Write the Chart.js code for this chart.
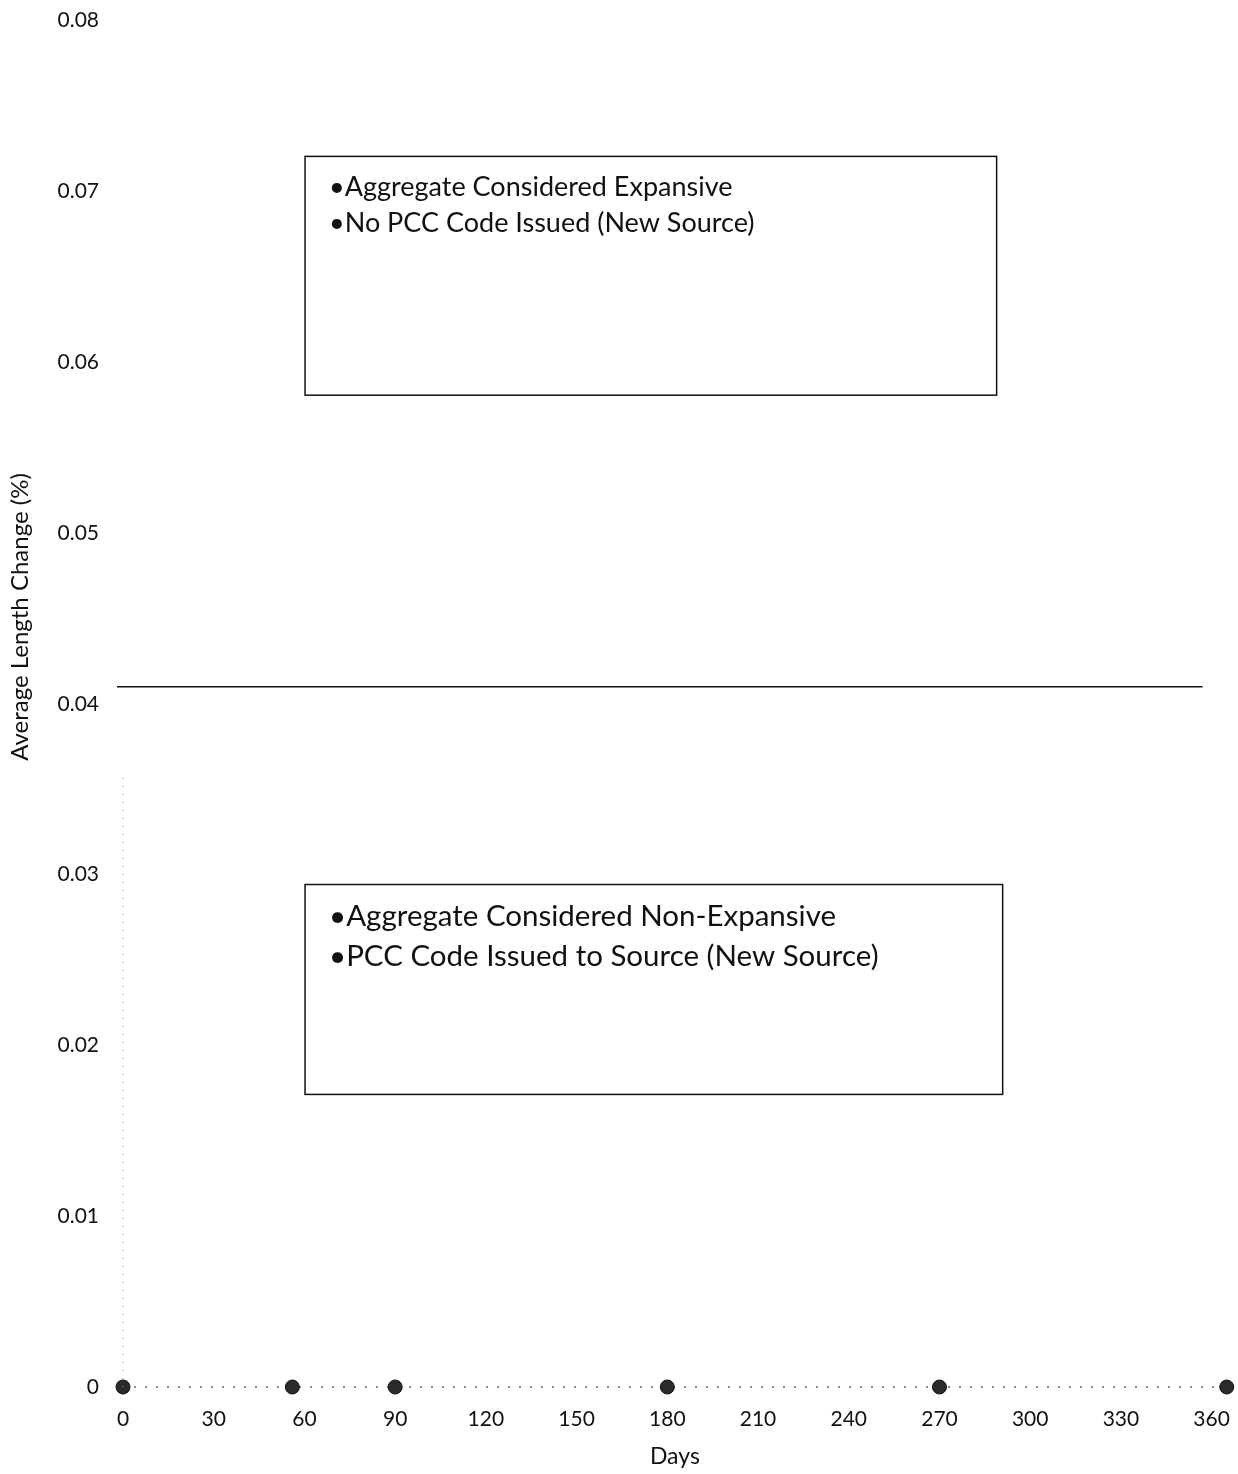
<!DOCTYPE html>
<html>
<head>
<meta charset="utf-8">
<script src="https://cdn.jsdelivr.net/npm/chart.js@4/dist/chart.umd.min.js"></script>
<style>
  html, body { margin: 0; padding: 0; background: #fff; }
  #wrap { width: 1238px; height: 1474px; overflow: hidden; position: relative; }
  #grafico { position: absolute; left: 0; top: -16px; }
</style>
</head>
<body>
<div id="wrap"><canvas id="grafico" width="1250" height="1490"></canvas></div>
<script>
// measured samples (all readings at zero)
const days = [0, 56, 90, 180, 270, 365];
const lengthChange = [0, 0, 0, 0, 0, 0];

// expansion limit line
const limitDays = [-2, 357];
const limitValue = [0.041, 0.041];

// faint dotted trace along the y axis
const traceDays = [0, 0];
const traceValue = [0, 0.036];

const xTicks = [0, 30, 60, 90, 120, 150, 180, 210, 240, 270, 300, 330, 360];
const yTicks = [0, 0.01, 0.02, 0.03, 0.04, 0.05, 0.06, 0.07, 0.08];

// text boxes, in data units
const boxes = [
  { x0: 60.2, x1: 288.9, y0: 0.07205, y1: 0.05807, size: 27, gap: 36, first: 31,
    lines: ["•Aggregate Considered Expansive", "•No PCC Code Issued (New Source)"] },
  { x0: 60.2, x1: 290.9, y0: 0.02942, y1: 0.01713, size: 29.5, gap: 40, first: 32,
    lines: ["•Aggregate Considered Non-Expansive", "•PCC Code Issued to Source (New Source)"] }
];

const FONT = "Lato, 'Open Sans', sans-serif";
const CANVAS_SHIFT = 16; // canvas is moved up by this much

const toPts = (xs, ys) => xs.map((x, i) => ({ x: x, y: ys[i] }));

const cajas = {
  id: "cajas",
  afterDatasetsDraw(chart) {
    const { ctx, scales } = chart;
    const sx = scales.x, sy = scales.y;
    ctx.save();
    boxes.forEach(b => {
      const left = sx.getPixelForValue(b.x0), right = sx.getPixelForValue(b.x1);
      const top = sy.getPixelForValue(b.y0), bottom = sy.getPixelForValue(b.y1);
      ctx.fillStyle = "#fff";
      ctx.fillRect(left, top, right - left, bottom - top);
      ctx.strokeStyle = "#111";
      ctx.lineWidth = 1.5;
      ctx.strokeRect(left, top, right - left, bottom - top);
      ctx.fillStyle = "#111";
      ctx.font = `${b.size}px ${FONT}`;
      ctx.textBaseline = "middle";
      ctx.textAlign = "left";
      b.lines.forEach((t, i) => ctx.fillText(t, left + 24, top + b.first + i * b.gap));
    });
    // y axis title
    ctx.translate(20, 617 + CANVAS_SHIFT);
    ctx.rotate(-Math.PI / 2);
    ctx.font = `24px ${FONT}`;
    ctx.textAlign = "center";
    ctx.textBaseline = "middle";
    ctx.fillStyle = "#111";
    ctx.fillText("Average Length Change (%)", 0, 0);
    ctx.restore();
  }
};

new Chart(document.getElementById("grafico"), {
  type: "scatter",
  data: {
    datasets: [
      {
        label: "trace",
        data: toPts(traceDays, traceValue),
        showLine: true,
        clip: false,
        borderColor: "#999",
        borderWidth: 1,
        borderDash: [1, 7],
        pointRadius: 0
      },
      {
        label: "limit",
        data: toPts(limitDays, limitValue),
        showLine: true,
        clip: false,
        borderColor: "#111",
        borderWidth: 1.5,
        pointRadius: 0
      },
      {
        label: "Average Length Change",
        data: toPts(days, lengthChange),
        showLine: true,
        clip: false,
        borderColor: "#666",
        borderWidth: 1.5,
        borderDash: [2, 9],
        pointRadius: 7,
        pointBackgroundColor: "#2a2a2a",
        pointBorderColor: "#111",
        pointBorderWidth: 1
      }
    ]
  },
  options: {
    responsive: false,
    animation: false,
    layout: { padding: 0 },
    plugins: { legend: { display: false }, tooltip: { enabled: false } },
    scales: {
      x: {
        type: "linear",
        min: 0,
        max: 365,
        grid: { display: false, drawTicks: false },
        border: { display: false },
        afterBuildTicks: s => { s.ticks = xTicks.map(v => ({ value: v })); },
        afterFit: s => { s.height = 87; },
        ticks: { padding: 20, color: "#111", font: { family: FONT, size: 21 } },
        title: { display: true, text: "Days", color: "#111", padding: { top: 4 }, font: { family: FONT, size: 23 } }
      },
      y: {
        type: "linear",
        min: 0,
        max: 0.08,
        grid: { display: false, drawTicks: false },
        border: { display: false },
        afterBuildTicks: s => { s.ticks = yTicks.map(v => ({ value: v })); },
        afterFit: s => { s.width = 123; },
        ticks: {
          padding: 24,
          color: "#111",
          font: { family: FONT, size: 21 },
          callback: v => (v === 0 ? "0" : v.toFixed(2))
        }
      }
    }
  },
  plugins: [cajas]
});
</script>
</body>
</html>
